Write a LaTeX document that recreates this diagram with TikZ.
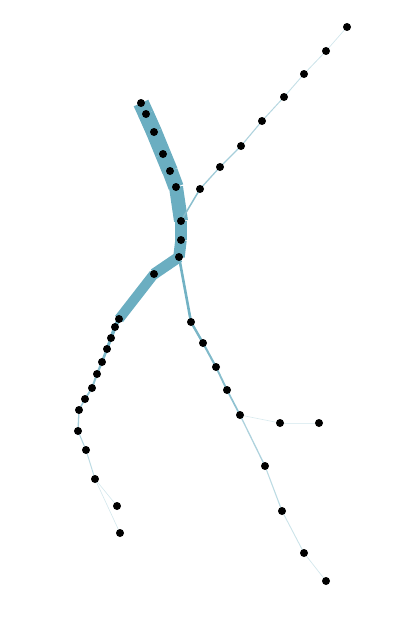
\documentclass[tikz,border=0pt]{standalone}
\definecolor{limb}{RGB}{107,174,193}

\begin{document}
\begin{tikzpicture}[x=1pt,y=-1pt]
\tikzset{seg/.style 2 args={line width=#1pt, draw=limb!#2!white, line cap=butt}}
\tikzstyle{dot}=[fill=black]
\useasboundingbox (0,0) rectangle (407,618);
% trunk
\coordinate (t1) at (141,103);
\coordinate (t2) at (146,114);
\coordinate (t3) at (154,132);
\coordinate (t4) at (163,154);
\coordinate (t5) at (170,171);
\coordinate (t6) at (176,187);
\coordinate (t7) at (181,221);
\coordinate (t8) at (181,240);
\coordinate (t9) at (179,257);
% left limb
\coordinate (l1) at (154,274);
\coordinate (l2) at (119,319);
\coordinate (l3) at (115,327);
\coordinate (l4) at (111,338);
\coordinate (l5) at (107,349);
\coordinate (l6) at (102,362);
\coordinate (l7) at (97,374);
\coordinate (l8) at (92,388);
\coordinate (l9) at (85,399);
\coordinate (l10) at (79,410);
\coordinate (l11) at (78,431);
\coordinate (l12) at (86,450);
\coordinate (l13) at (95,479);
\coordinate (l14) at (117,506);
\coordinate (l15) at (120,533);
% upper right limb
\coordinate (r1) at (200,189);
\coordinate (r2) at (220,167);
\coordinate (r3) at (241,146);
\coordinate (r4) at (262,121);
\coordinate (r5) at (284,97);
\coordinate (r6) at (304,74);
\coordinate (r7) at (326,51);
\coordinate (r8) at (347,27);
% lower right limb
\coordinate (d1) at (191,322);
\coordinate (d2) at (203,343);
\coordinate (d3) at (216,367);
\coordinate (d4) at (227,390);
\coordinate (d5) at (240,415);
\coordinate (d6) at (280,423);
\coordinate (d7) at (319,423);
\coordinate (d8) at (265,466);
\coordinate (d9) at (282,511);
\coordinate (d10) at (304,553);
\coordinate (d11) at (326,581);

\draw [seg={16}{100}] (t1) -- (t2);
\draw [seg={16}{100}] (t2) -- (t3);
\draw [seg={16}{100}] (t3) -- (t4);
\draw [seg={16}{100}] (t4) -- (t5);
\draw [seg={15.5}{100}] (t5) -- (t6);
\draw [seg={14}{100}] (t6) -- (t7);
\draw [seg={12}{100}] (t7) -- (t8);
\draw [seg={11.5}{100}] (t8) -- (t9);
\draw [seg={11}{100}] (t9) -- (l1);
\draw [seg={10}{100}] (l1) -- (l2);
\draw [seg={4}{95}] (l2) -- (l3);
\draw [seg={3.5}{92}] (l3) -- (l4);
\draw [seg={3}{90}] (l4) -- (l5);
\draw [seg={2.6}{85}] (l5) -- (l6);
\draw [seg={2.3}{80}] (l6) -- (l7);
\draw [seg={2}{75}] (l7) -- (l8);
\draw [seg={1.8}{70}] (l8) -- (l9);
\draw [seg={1.5}{65}] (l9) -- (l10);
\draw [seg={1.3}{60}] (l10) -- (l11);
\draw [seg={1.1}{50}] (l11) -- (l12);
\draw [seg={1}{45}] (l12) -- (l13);
\draw [seg={0.6}{30}] (l13) -- (l14);
\draw [seg={0.6}{30}] (l13) -- (l15);
\draw [seg={1.5}{80}] (t7) -- (r1);
\draw [seg={1.3}{65}] (r1) -- (r2);
\draw [seg={1.2}{60}] (r2) -- (r3);
\draw [seg={1.1}{55}] (r3) -- (r4);
\draw [seg={1}{50}] (r4) -- (r5);
\draw [seg={0.9}{40}] (r5) -- (r6);
\draw [seg={0.8}{35}] (r6) -- (r7);
\draw [seg={0.7}{30}] (r7) -- (r8);
\draw [seg={2.6}{95}] (t9) -- (d1);
\draw [seg={2.4}{90}] (d1) -- (d2);
\draw [seg={2.1}{85}] (d2) -- (d3);
\draw [seg={1.9}{80}] (d3) -- (d4);
\draw [seg={1.7}{75}] (d4) -- (d5);
\draw [seg={0.6}{25}] (d5) -- (d6);
\draw [seg={0.5}{20}] (d6) -- (d7);
\draw [seg={1.3}{55}] (d5) -- (d8);
\draw [seg={1.1}{45}] (d8) -- (d9);
\draw [seg={0.9}{35}] (d9) -- (d10);
\draw [seg={0.7}{30}] (d10) -- (d11);

\foreach \p in {t1,t2,t3,t4,t5,t6,t7,t8,t9,l1,l2,l3,l4,l5,l6,l7,l8,l9,l10,l11,l12,l13,l14,l15,r1,r2,r3,r4,r5,r6,r7,r8,d1,d2,d3,d4,d5,d6,d7,d8,d9,d10,d11}
  \fill [dot] (\p) circle (4pt);
\end{tikzpicture}
\end{document}
